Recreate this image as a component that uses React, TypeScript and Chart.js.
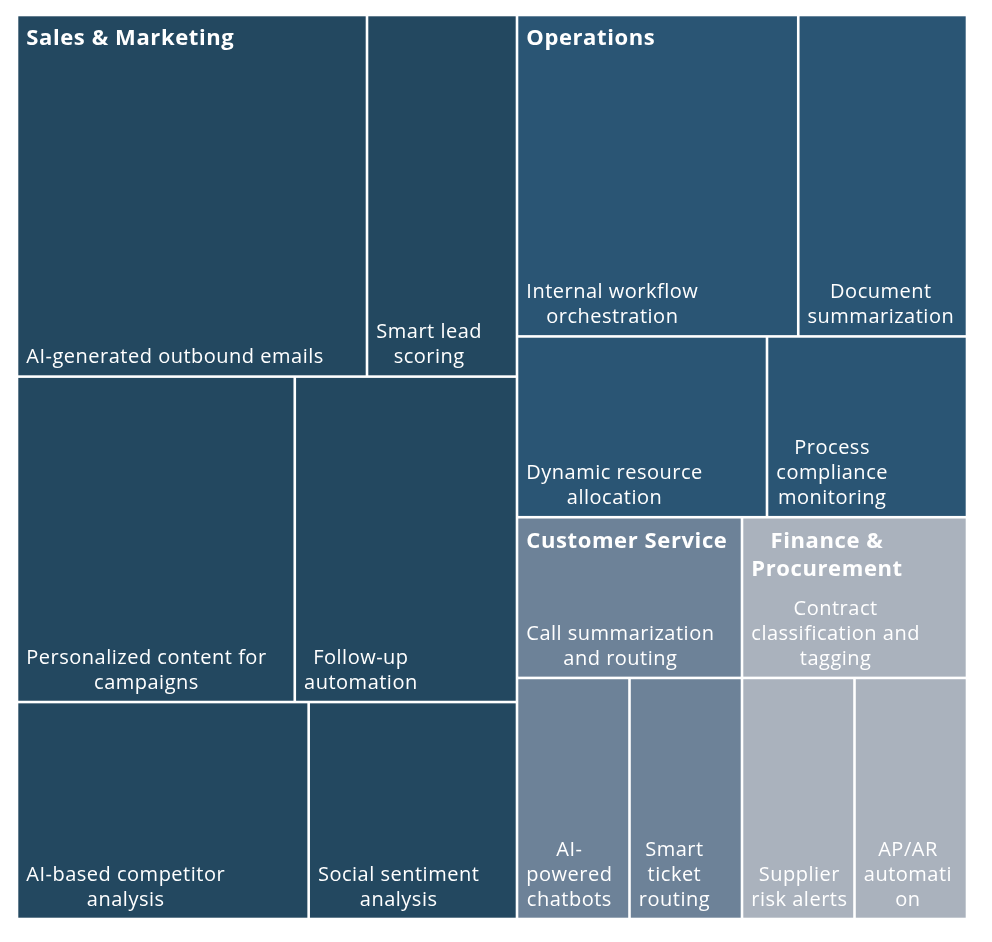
import React, { useEffect, useRef } from "react";
import { Chart, registerables } from "chart.js";

Chart.register(...registerables);

// ---- data ----
const groupNames = ["Sales & Marketing", "Operations", "Customer Service", "Finance & Procurement"];

const useCaseLabels = [
  "AI-generated outbound emails",
  "Smart lead scoring",
  "Personalized content for campaigns",
  "Follow-up automation",
  "AI-based competitor analysis",
  "Social sentiment analysis",
  "Internal workflow orchestration",
  "Document summarization",
  "Dynamic resource allocation",
  "Process compliance monitoring",
  "Call summarization and routing",
  "AI-powered chatbots",
  "Smart ticket routing",
  "Contract classification and tagging",
  "Supplier risk alerts",
  "AP/AR automation",
];

const useCaseGroups = [0, 0, 0, 0, 0, 0, 1, 1, 1, 1, 2, 2, 2, 3, 3, 3];

const useCaseValues = [28, 12, 20, 16, 14, 10, 20, 12, 10, 8, 8, 6, 6, 8, 6, 6];

// ---- styles ----
const groupColors = ["#234860", "#2a5574", "#6d8298", "#aab2bd"];
const FONT = "'Open Sans', 'Noto Sans', sans-serif";
const GAP = 2.6;
const PAD_L = 8;
const PAD_R = 4;

type R = { x0: number; y0: number; x1: number; y1: number };

// d3-style squarify with a ratio parameter
function squarify(values: number[], X0: number, Y0: number, X1: number, Y1: number, ratio: number): R[] {
  const rects: R[] = new Array(values.length);
  let x0 = X0, y0 = Y0;
  const x1 = X1, y1 = Y1;
  let value = values.reduce((a, b) => a + b, 0);
  const n = values.length;
  let i0 = 0, i1 = 0;
  while (i0 < n) {
    const dx = x1 - x0, dy = y1 - y0;
    let sumValue = values[i1++];
    let minValue = sumValue, maxValue = sumValue;
    const alpha = Math.max(dy / dx, dx / dy) / (value * ratio);
    let beta = sumValue * sumValue * alpha;
    let minRatio = Math.max(maxValue / beta, beta / minValue);
    for (; i1 < n; ++i1) {
      const nv = values[i1];
      sumValue += nv;
      const mn = Math.min(minValue, nv);
      const mx = Math.max(maxValue, nv);
      beta = sumValue * sumValue * alpha;
      const newRatio = Math.max(mx / beta, beta / mn);
      if (newRatio > minRatio) {
        sumValue -= nv;
        break;
      }
      minRatio = newRatio;
      minValue = mn;
      maxValue = mx;
    }
    if (dx < dy) {
      const yb = y0 + (dy * sumValue) / value;
      let x = x0;
      for (let i = i0; i < i1; i++) {
        const w = ((x1 - x0) * values[i]) / sumValue;
        rects[i] = { x0: x, y0: y0, x1: x + w, y1: yb };
        x += w;
      }
      y0 = yb;
    } else {
      const xb = x0 + (dx * sumValue) / value;
      let y = y0;
      for (let i = i0; i < i1; i++) {
        const h = ((y1 - y0) * values[i]) / sumValue;
        rects[i] = { x0: x0, y0: y, x1: xb, y1: y + h };
        y += h;
      }
      x0 = xb;
    }
    value -= sumValue;
    i0 = i1;
  }
  return rects;
}

function wrapText(ctx: CanvasRenderingContext2D, text: string, maxW: number): string[] {
  const tokens: { t: string; sep: string }[] = [];
  for (const word of text.split(" ")) {
    if (ctx.measureText(word).width <= maxW) {
      tokens.push({ t: word, sep: " " });
      continue;
    }
    const parts = word.split(/(?<=-)/);
    let first = true;
    for (const p of parts) {
      if (ctx.measureText(p).width <= maxW) {
        tokens.push({ t: p, sep: first ? " " : "" });
      } else {
        let cur = "";
        let firstChunk = true;
        for (const ch of p) {
          if (cur && ctx.measureText(cur + ch).width > maxW) {
            tokens.push({ t: cur, sep: first && firstChunk ? " " : "" });
            firstChunk = false;
            cur = ch;
          } else cur += ch;
        }
        if (cur) tokens.push({ t: cur, sep: first && firstChunk ? " " : "" });
      }
      first = false;
    }
  }
  const lines: string[] = [];
  let line = "";
  for (const tok of tokens) {
    if (!line) {
      line = tok.t;
      continue;
    }
    const cand = line + tok.sep + tok.t;
    if (ctx.measureText(cand).width <= maxW && tok.sep !== "") {
      line = cand;
    } else {
      lines.push(line);
      line = tok.t;
    }
  }
  if (line) lines.push(line);
  return lines;
}

function drawBlock(
  ctx: CanvasRenderingContext2D,
  lines: string[],
  left: number,
  firstBaseline: number,
  lineH: number
) {
  const widths = lines.map((l) => ctx.measureText(l).width);
  const bw = Math.max(...widths);
  const cx = left + bw / 2;
  ctx.textAlign = "center";
  ctx.textBaseline = "alphabetic";
  lines.forEach((l, i) => ctx.fillText(l, cx, firstBaseline + i * lineH));
}

const treemapPlugin = {
  id: "treemapTiles",
  afterDatasetsDraw(chart: any) {
    const ctx: any = chart.ctx;
    const xs = chart.scales.x;
    const ys = chart.scales.y;
    const L = xs.getPixelForValue(0);
    const Rr = xs.getPixelForValue(1);
    const T = ys.getPixelForValue(1);
    const B = ys.getPixelForValue(0);

    const groupSums = groupNames.map((_, g) =>
      useCaseValues.reduce((s, v, i) => (useCaseGroups[i] === g ? s + v : s), 0)
    );
    const groupRects = squarify(groupSums, L, T, Rr, B, 1);

    ctx.save();
    groupNames.forEach((gName, g) => {
      const gr = groupRects[g];
      const idx = useCaseValues.map((_, i) => i).filter((i) => useCaseGroups[i] === g);
      const vals = idx.map((i) => useCaseValues[i]);
      const leafRects = squarify(vals, gr.x0, gr.y0, gr.x1, gr.y1, 1.25);
      leafRects.forEach((r, k) => {
        const x = r.x0 + GAP / 2;
        const y = r.y0 + GAP / 2;
        const w = r.x1 - r.x0 - GAP;
        const h = r.y1 - r.y0 - GAP;
        ctx.fillStyle = groupColors[g];
        ctx.fillRect(x, y, w, h);
        ctx.fillStyle = "#ffffff";
        ctx.font = `20px ${FONT}`;
        ctx.letterSpacing = "0.5px";
        const lines = wrapText(ctx, useCaseLabels[idx[k]], w - PAD_L - PAD_R);
        const lineH = 25;
        const lastBase = y + h - 12;
        drawBlock(ctx, lines, x + PAD_L, lastBase - (lines.length - 1) * lineH, lineH);
      });
      // group label
      const gx = gr.x0 + GAP / 2;
      const gy = gr.y0 + GAP / 2;
      const gw = gr.x1 - gr.x0 - GAP;
      ctx.fillStyle = "#ffffff";
      ctx.font = `bold 22px ${FONT}`;
      ctx.letterSpacing = "0.6px";
      const glines = wrapText(ctx, gName, gw - PAD_L - PAD_R);
      drawBlock(ctx, glines, gx + PAD_L, gy + 29, 28);
    });
    ctx.restore();
  },
};

export default function App() {
  const ref = useRef<HTMLCanvasElement | null>(null);
  useEffect(() => {
    if (!ref.current) return;
    const chart = new Chart(ref.current, {
      type: "scatter",
      data: {
        datasets: [{ label: "Use cases", data: [] }],
      },
      options: {
        animation: false,
        responsive: true,
        maintainAspectRatio: false,
        layout: { padding: { left: 9, right: 17, top: 7, bottom: 15 } },
        plugins: { legend: { display: false }, tooltip: { enabled: false } },
        scales: {
          x: { type: "linear", min: 0, max: 1, display: false },
          y: { type: "linear", min: 0, max: 1, display: false },
        },
      },
      plugins: [treemapPlugin],
    });
    return () => chart.destroy();
  }, []);
  return (
    <div style={{ width: 976, height: 926, position: "relative" }}>
      <canvas ref={ref} />
    </div>
  );
}
